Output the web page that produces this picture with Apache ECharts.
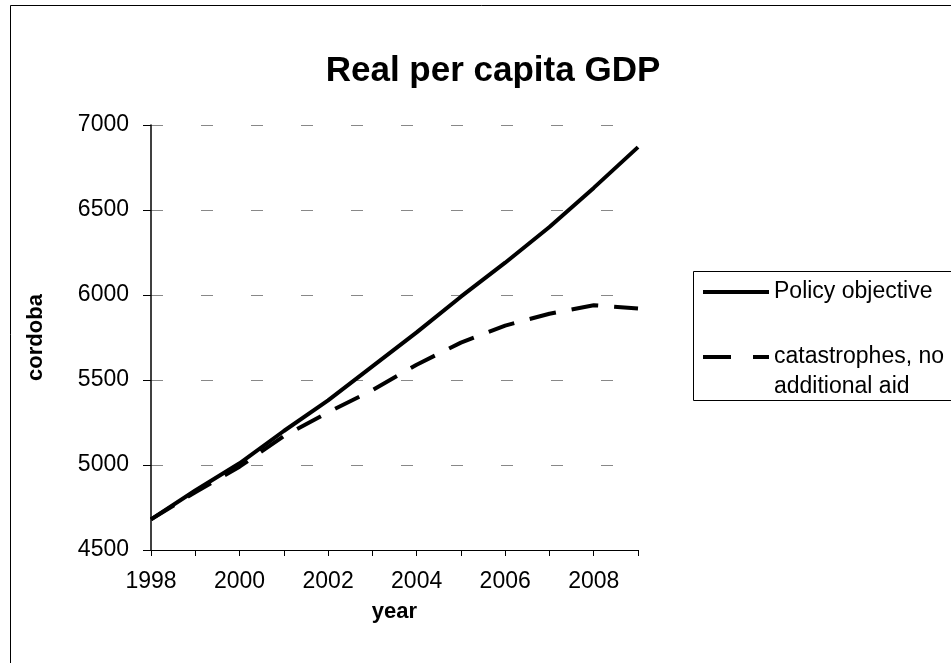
<!DOCTYPE html>
<html>
<head>
<meta charset="utf-8">
<script src="https://cdn.jsdelivr.net/npm/echarts@6/dist/echarts.min.js"></script>
<style>
  html, body { margin: 0; padding: 0; background: #fff; }
  #chart { width: 951px; height: 663px; }
</style>
</head>
<body>
<div id="chart"></div>
<script>
const years = ['1998','1999','2000','2001','2002','2003','2004','2005','2006','2007','2008','2009'];
const policyObjective = [4680, 4850, 5010, 5200, 5380, 5580, 5780, 5990, 6190, 6400, 6630, 6870];
const catastrophesNoAid = [4680, 4840, 4990, 5170, 5310, 5440, 5590, 5720, 5820, 5890, 5940, 5920];
const seriesNames = ['Policy objective', 'catastrophes, no additional aid'];
const yMin = 4500, yMax = 7000, yStep = 500;

const FONT = '"Liberation Sans", Arial, sans-serif';
const chart = echarts.init(document.getElementById('chart'), null, { renderer: 'canvas' });

chart.setOption({
  backgroundColor: '#ffffff',
  animation: false,
  textStyle: { fontFamily: FONT, color: '#000' },
  title: {
    text: 'Real per capita GDP',
    left: 488,
    top: 49,
    textAlign: 'center',
    textStyle: { fontFamily: FONT, fontSize: 35, fontWeight: 'bold', color: '#000' }
  },
  graphic: [
    { type: 'rect', shape: { x: 10.5, y: 5.5, width: 1000, height: 700 },
      style: { fill: 'none', stroke: '#000', lineWidth: 1 }, silent: true, z: -1 },
    { type: 'rect', shape: { x: 693.5, y: 271.5, width: 300, height: 129 },
      style: { fill: '#fff', stroke: '#000', lineWidth: 1 }, silent: true, z: 0 }
  ],
  legend: [
    {
      data: [seriesNames[0]],
      orient: 'vertical',
      left: 703, top: 277, padding: 0,
      itemWidth: 66, itemHeight: 14,
      icon: 'path://M0,5h66v4h-66z',
      textStyle: { fontFamily: FONT, fontSize: 23, color: '#000', lineHeight: 30 },
      z: 5
    },
    {
      data: [seriesNames[1]],
      orient: 'vertical',
      left: 703, top: 312, padding: 0,
      itemWidth: 66, itemHeight: 14,
      icon: 'path://M0,5h28v4h-28z M50,5h16v4h-16z',
      formatter: function (n) { return ' \n' + n.replace('no ', 'no\n'); },
      textStyle: { fontFamily: FONT, fontSize: 23, color: '#000', lineHeight: 30 },
      z: 5
    }
  ],
  grid: { left: 151, top: 125, right: 313, bottom: 113, containLabel: false },
  xAxis: {
    type: 'category',
    data: years,
    boundaryGap: false,
    name: 'year',
    nameLocation: 'middle',
    nameGap: 51,
    nameTextStyle: { fontFamily: FONT, fontSize: 22, fontWeight: 'bold', color: '#000' },
    axisLine: { lineStyle: { color: '#000', width: 1 } },
    axisTick: { show: true, inside: false, length: 6, interval: 0, alignWithLabel: true, lineStyle: { color: '#000' } },
    axisLabel: { interval: 1, margin: 20, fontFamily: FONT, fontSize: 23, color: '#000' },
    splitLine: { show: false }
  },
  yAxis: {
    type: 'value',
    min: yMin, max: yMax, interval: yStep,
    name: 'cordoba',
    nameLocation: 'middle',
    nameGap: 104,
    nameRotate: 90,
    nameTextStyle: { fontFamily: FONT, fontSize: 22, fontWeight: 'bold', color: '#000' },
    axisLine: { show: true, lineStyle: { color: '#000', width: 1.5 } },
    axisTick: { show: true, inside: false, length: 8, lineStyle: { color: '#000' } },
    axisLabel: { margin: 22, fontFamily: FONT, fontSize: 23, color: '#000', formatter: function (v) { return String(v); } },
    splitLine: { show: true, lineStyle: { color: '#888', width: 1, type: [12, 38] } }
  },
  series: [
    {
      name: seriesNames[0],
      type: 'line',
      data: policyObjective,
      symbol: 'none',
      smooth: false,
      lineStyle: { color: '#000', width: 4, type: 'solid' },
      itemStyle: { color: '#000' },
      z: 3
    },
    {
      name: seriesNames[1],
      type: 'line',
      data: catastrophesNoAid,
      symbol: 'none',
      smooth: false,
      lineStyle: { color: '#000', width: 4, type: [27, 16] },
      itemStyle: { color: '#000' },
      z: 3
    }
  ]
});
</script>
</body>
</html>
